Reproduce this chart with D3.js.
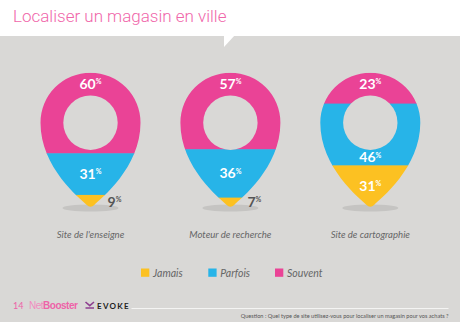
<!DOCTYPE html>
<html>
<head>
<meta charset="utf-8">
<script src="https://cdn.jsdelivr.net/npm/d3@7"></script>
<style>
  body { margin: 0; background: #d9d8d6; }
  svg { display: block; }
</style>
</head>
<body>
<div class="chart"></div>
<script>
var svgWidth = 460;
var svgHeight = 322;

// data
var categories = ["Site de l'enseigne", "Moteur de recherche", "Site de cartographie"];
var seriesNames = ["Jamais", "Parfois", "Souvent"];
var jamais = [9, 7, 31];
var parfois = [31, 36, 46];
var souvent = [60, 57, 23];

var colors = {Jamais: "#fcc122", Parfois: "#27b4e8", Souvent: "#ea4396"};
var bg = "#d9d8d6";

var rows = categories.map(function(c, i) {
    return {cat: c, Jamais: jamais[i], Parfois: parfois[i], Souvent: souvent[i]};
});

// stacked from the top of the pin: Souvent, Parfois, Jamais
var stack = d3.stack().keys(["Souvent", "Parfois", "Jamais"]);
var layers = stack(rows);

var svg = d3.select(".chart")
    .append("svg")
    .attr("width", svgWidth)
    .attr("height", svgHeight);

svg.append("rect").attr("width", svgWidth).attr("height", svgHeight).attr("fill", bg);

// header
svg.append("rect").attr("width", svgWidth).attr("height", 36).attr("fill", "#fff");
svg.append("path").attr("d", "M224,35 L235,35 L224,47 Z").attr("fill", "#fff");
svg.append("text")
    .attr("x", 13).attr("y", 22)
    .attr("font-family", "Roboto").attr("font-weight", 300)
    .attr("font-size", 17).attr("fill", "#f066aa")
    .text("Localiser un magasin en ville");

var r = 50;
var pinTop = 72.7;
var pinTip = 207;
var cy = pinTop + r;
var holeR = 27.2;

var x = d3.scalePoint().domain(categories).range([90.5, 370.3]);
var y = d3.scaleLinear().domain([0, 100]).range([pinTop, pinTip]);

// pin outline, local coords with circle centre at 0,0
var pinPath = "M-50,0 A50,50 0 0 1 50,0 C50,45 10,76 4,82 Q0,86.3 -4,82 C-10,76 -50,45 -50,0 Z";

var defs = svg.append("defs");
categories.forEach(function(c, i) {
    defs.append("clipPath").attr("id", "pin" + i)
        .append("path")
        .attr("d", pinPath)
        .attr("transform", "translate(" + x(c) + "," + cy + ")");
});

var pins = svg.selectAll(".pin")
    .data(rows)
    .enter()
    .append("g")
    .attr("class", "pin");

// shadow
pins.append("ellipse")
    .attr("cx", function(d) { return x(d.cat); })
    .attr("cy", 208)
    .attr("rx", 28).attr("ry", 3.6)
    .attr("fill", "#c5c4c2");

layers.forEach(function(layer) {
    var key = layer.key;
    pins.append("rect")
        .attr("clip-path", function(d, i) { return "url(#pin" + i + ")"; })
        .attr("x", function(d) { return x(d.cat) - r - 2; })
        .attr("width", 2 * r + 4)
        .attr("y", function(d, i) { return y(layer[i][0]); })
        .attr("height", function(d, i) { return y(layer[i][1]) - y(layer[i][0]) + (key == "Jamais" ? 4 : 0.5); })
        .attr("fill", colors[key]);
});

pins.append("circle")
    .attr("cx", function(d) { return x(d.cat); })
    .attr("cy", cy)
    .attr("r", holeR)
    .attr("fill", bg);

function pctLabel(sel, value, size) {
    sel.append("tspan").text(value);
    sel.append("tspan").attr("font-size", size * 0.5).attr("dy", -size * 0.32).text("%");
}

// labels: centred in the visible part of each band, outside if too thin
layers.forEach(function(layer) {
    var key = layer.key;
    rows.forEach(function(d, i) {
        var v = d[key];
        var y0 = y(layer[i][0]), y1 = y(layer[i][1]);
        var cx = x(d.cat);
        if (y1 - y0 < 15) {
            var t = svg.append("text")
                .attr("x", cx + 17).attr("y", 206.5)
                .attr("font-family", "Lato").attr("font-weight", 700)
                .attr("font-size", 14).attr("fill", "#555");
            pctLabel(t, v, 14);
            return;
        }
        var hTop = cy - holeR, hBot = cy + holeR;
        var a = [y0, Math.min(y1, hTop)], b = [Math.max(y0, hBot), y1];
        var seg = (a[1] - a[0]) >= (b[1] - b[0]) ? a : b;
        var my = (seg[0] + seg[1]) / 2;
        var t = svg.append("text")
            .attr("x", cx).attr("y", my + 4.5)
            .attr("text-anchor", "middle")
            .attr("font-family", "Lato").attr("font-weight", 700)
            .attr("font-size", 14).attr("fill", "#fff");
        pctLabel(t, v, 14);
    });
});

// category labels
svg.selectAll(".cat")
    .data(categories)
    .enter()
    .append("text")
    .attr("class", "cat")
    .attr("x", function(d) { return x(d); })
    .attr("y", 238)
    .attr("text-anchor", "middle")
    .attr("font-family", "Lato").attr("font-style", "italic")
    .attr("font-size", 9.6).attr("fill", "#666")
    .text(function(d) { return d; });

// legend
var legendX = [141, 208.3, 275];
var legend = svg.selectAll(".legend")
    .data(seriesNames)
    .enter()
    .append("g")
    .attr("class", "legend")
    .attr("transform", function(d, i) { return "translate(" + legendX[i] + ",268.5)"; });

legend.append("rect").attr("width", 8.3).attr("height", 8.3)
    .attr("fill", function(d) { return colors[d]; });
legend.append("text")
    .attr("x", 12).attr("y", 8.2)
    .attr("font-family", "Lato").attr("font-style", "italic")
    .attr("font-size", 10.5).attr("fill", "#666")
    .text(function(d) { return d; });

// footer
svg.append("text").attr("x", 13).attr("y", 308.5)
    .attr("font-family", "Lato").attr("font-size", 9).attr("fill", "#ee62a8")
    .text("14");
var nb = svg.append("text").attr("x", 29).attr("y", 308.5)
    .attr("font-family", "Liberation Sans").attr("font-size", 10).attr("fill", "#ee62a8")
    .attr("letter-spacing", -0.5);
nb.append("tspan").attr("fill", "#f28cc0").text("Net");
nb.append("tspan").attr("font-weight", 700).text("Booster");

svg.append("path")
    .attr("d", "M85.5,302 L89.8,305.6 L94,302 M85.5,308 L94,308")
    .attr("fill", "none").attr("stroke", "#8e3f90").attr("stroke-width", 1.6);
svg.append("text").attr("x", 97).attr("y", 308.5)
    .attr("font-family", "Lato").attr("font-weight", 700)
    .attr("font-size", 8).attr("letter-spacing", 1.3).attr("fill", "#222")
    .text("EVOKE");

svg.append("line")
    .attr("x1", 131.5).attr("x2", 448.5).attr("y1", 308.5).attr("y2", 308.5)
    .attr("stroke", "#f4f4f3").attr("stroke-width", 1);

svg.append("text").attr("x", 448.5).attr("y", 317.5)
    .attr("text-anchor", "end")
    .attr("font-family", "Lato").attr("font-size", 5.6).attr("fill", "#555")
    .text("Question : Quel type de site utilisez-vous pour localiser un magasin pour vos achats ?");
</script>
</body>
</html>
